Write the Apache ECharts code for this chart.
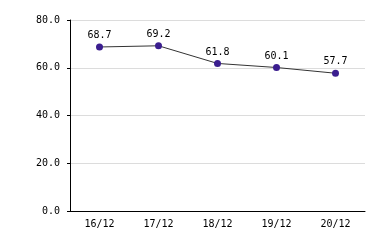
<!DOCTYPE html>
<html><head><meta charset="utf-8">
<script src="https://cdn.jsdelivr.net/npm/echarts@6/dist/echarts.min.js"></script>
<style>html,body{margin:0;padding:0;background:#fff}#c{width:384px;height:240px}</style>
</head><body><div id="c"></div>
<script>
const categories = ['16/12','17/12','18/12','19/12','20/12'];
const values = [68.7, 69.2, 61.8, 60.1, 57.7];
const yTicks = {min: 0, max: 80, interval: 20};
const font = 'DejaVu Sans Mono';
const chart = echarts.init(document.getElementById('c'), null, {renderer:'canvas'});
chart.setOption({
  animation: false,
  grid: {left: 70, right: 19, top: 20, bottom: 29},
  xAxis: {
    type: 'category', data: categories, boundaryGap: true,
    axisLine: {lineStyle: {color: '#000', width: 1}},
    axisTick: {alignWithLabel: true, length: 4, lineStyle: {color: '#000'}},
    axisLabel: {color: '#000', fontFamily: font, fontSize: 10, margin: 8},
    splitLine: {show: false}
  },
  yAxis: {
    type: 'value', min: yTicks.min, max: yTicks.max, interval: yTicks.interval,
    axisLine: {show: true, lineStyle: {color: '#000', width: 1}},
    axisTick: {show: true, length: 3, lineStyle: {color: '#000'}},
    axisLabel: {color: '#000', fontFamily: font, fontSize: 10, margin: 10,
      formatter: v => v.toFixed(1)},
    splitLine: {lineStyle: {color: '#dcdcdc', width: 1}}
  },
  series: [{
    type: 'line', data: values,
    symbol: 'circle', symbolSize: 7,
    lineStyle: {color: '#333', width: 1},
    itemStyle: {color: '#3b1e8f'},
    label: {show: true, position: 'top', distance: 3, color: '#000', fontFamily: font, fontSize: 10,
      formatter: p => p.value.toFixed(1)}
  }]
});
</script></body></html>
